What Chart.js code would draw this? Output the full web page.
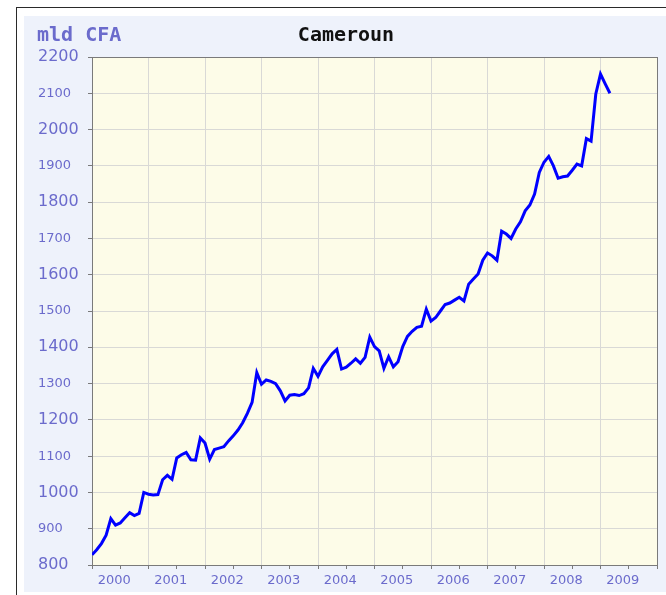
<!DOCTYPE html>
<html>
<head>
<meta charset="utf-8">
<title>Cameroun</title>
<script src="https://cdn.jsdelivr.net/npm/chart.js@4/dist/chart.umd.min.js"></script>
<style>
    body { margin: 0; background: #ffffff; overflow: hidden; }
    #frame {
        position: absolute; left: 16px; top: 7px; right: 0; bottom: 0;
        border-top: 1px solid #2a2a2a; border-left: 1px solid #2a2a2a;
    }
    #panel {
        position: absolute; left: 7px; top: 8px; width: 642px; height: 576px;
        background: #eef2fb;
    }
    canvas { display: block; }
</style>
</head>
<body>
<div id="frame">
    <div id="panel">
        <canvas id="chart" width="642" height="576"></canvas>
    </div>
</div>
<script>
// Monthly series, mld CFA, January 2000 onwards
const startYear = 2000;
const values = [
    828, 842, 859, 882, 928, 910, 916, 930, 944, 936, 942, 1000,
    995, 993, 994, 1035, 1047, 1036, 1095, 1104, 1110, 1090, 1089, 1150,
    1136, 1092, 1118, 1122, 1126, 1142, 1156, 1172, 1192, 1218, 1248, 1330,
    1298, 1310, 1306, 1300, 1280, 1252, 1268, 1270, 1267, 1272, 1288, 1342,
    1320, 1346, 1364, 1382, 1394, 1340, 1345, 1356, 1368, 1356, 1372, 1428,
    1402, 1390, 1342, 1374, 1346, 1360, 1402, 1430, 1444, 1455, 1458, 1505,
    1472, 1482, 1500, 1518, 1522, 1530, 1538, 1528, 1574, 1588, 1602, 1640,
    1660, 1652, 1640, 1720, 1712, 1700, 1726, 1746, 1776, 1792, 1822, 1882,
    1910, 1926, 1900, 1866, 1870, 1872, 1888, 1905, 1900, 1975, 1968, 2098,
    2153, 2126, 2100
];
const yearLabels = ['2000', '2001', '2002', '2003', '2004', '2005', '2006', '2007', '2008', '2009'];
const yMin = 800;
const yMax = 2200;

const labelColor = '#6b6bcc';
const axisColor = '#7a7a7a';
const gridColor = '#d9d9d6';

const points = values.map((v, i) => ({ x: startYear + i / 12, y: v }));

const plotBackground = {
    id: 'plotBackground',
    beforeDraw(chart) {
        const { ctx, chartArea } = chart;
        ctx.save();
        ctx.fillStyle = '#fdfce8';
        ctx.fillRect(chartArea.left, chartArea.top, chartArea.right - chartArea.left, chartArea.bottom - chartArea.top);
        ctx.restore();
    }
};

const headerText = {
    id: 'headerText',
    afterDraw(chart) {
        const ctx = chart.ctx;
        ctx.save();
        ctx.font = 'bold 20px "DejaVu Sans Mono"';
        ctx.textBaseline = 'alphabetic';
        ctx.fillStyle = labelColor;
        ctx.textAlign = 'left';
        ctx.fillText('mld CFA', 13, 25);
        ctx.fillStyle = '#111111';
        ctx.textAlign = 'center';
        ctx.fillText('Cameroun', 322, 25);
        ctx.restore();
    }
};

new Chart(document.getElementById('chart'), {
    type: 'line',
    data: {
        datasets: [{
            data: points,
            borderColor: '#0000ff',
            borderWidth: 3,
            pointRadius: 0,
            tension: 0,
            fill: false
        }]
    },
    options: {
        responsive: false,
        devicePixelRatio: 1,
        animation: false,
        layout: { padding: { left: 14, top: 41, right: 9, bottom: 0 } },
        plugins: {
            legend: { display: false },
            tooltip: { enabled: false }
        },
        scales: {
            x: {
                type: 'linear',
                min: startYear,
                max: startYear + yearLabels.length,
                afterBuildTicks(scale) {
                    const ticks = [];
                    for (let k = 0; k <= yearLabels.length * 2; k++) {
                        ticks.push({ value: startYear + k / 2 });
                    }
                    scale.ticks = ticks;
                },
                afterFit(scale) { scale.height = 27; },
                grid: {
                    color: (ctx) => {
                        const v = ctx.tick.value;
                        if (v === startYear + yearLabels.length) return axisColor;
                        return v % 1 === 0 ? gridColor : 'rgba(0,0,0,0)';
                    },
                    tickColor: axisColor,
                    tickLength: 4
                },
                border: { color: axisColor, width: 1 },
                ticks: {
                    autoSkip: false,
                    maxRotation: 0,
                    padding: 4,
                    labelOffset: -6,
                    color: labelColor,
                    font: { family: 'DejaVu Sans', size: 13 },
                    callback: (value) => {
                        const idx = Math.floor(value - startYear);
                        return value % 1 !== 0 ? yearLabels[idx] : '';
                    }
                }
            },
            y: {
                min: yMin,
                max: yMax,
                afterFit(scale) { scale.width = 54; },
                grid: {
                    color: (ctx) => ctx.tick.value === yMax ? axisColor : gridColor,
                    tickColor: axisColor,
                    tickLength: 4
                },
                border: { color: axisColor, width: 1 },
                ticks: {
                    stepSize: 100,
                    crossAlign: 'far',
                    color: labelColor,
                    callback: (value) => String(value),
                    font: (ctx) => ({
                        family: 'DejaVu Sans',
                        size: (ctx.tick && (ctx.tick.value / 100) % 2 === 0) ? 16 : 13
                    })
                }
            }
        }
    },
    plugins: [plotBackground, headerText]
});
</script>
</body>
</html>
